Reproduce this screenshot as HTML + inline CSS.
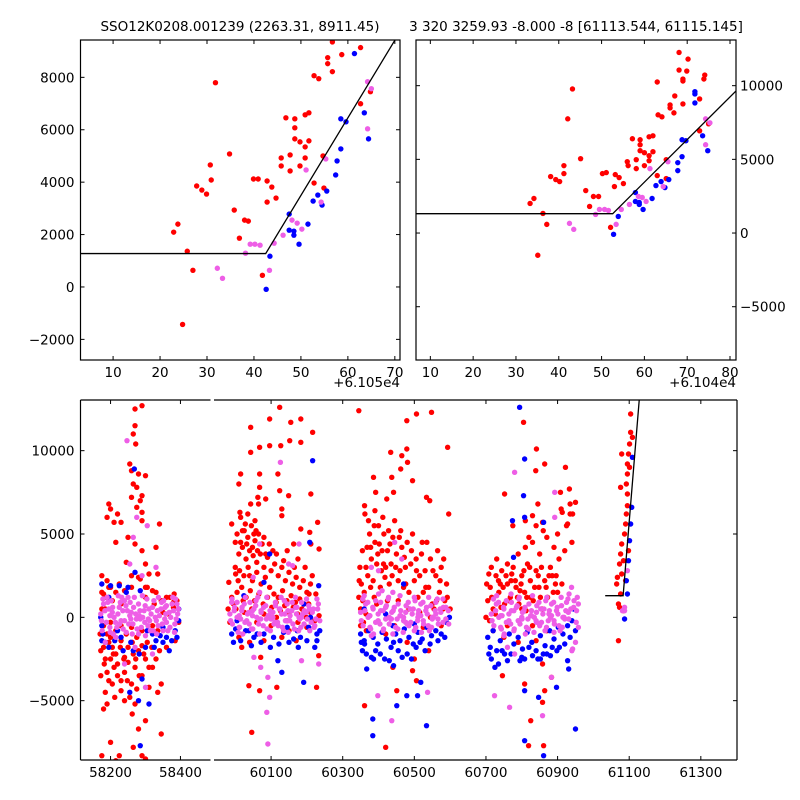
<!DOCTYPE html>
<html><head><meta charset="utf-8"><style>
html,body{margin:0;padding:0;background:#fff;}
svg{display:block;font-family:"DejaVu Sans","Liberation Sans",sans-serif;}
</style></head><body>
<svg id="chart" width="800" height="800" viewBox="0 0 800 800" xmlns="http://www.w3.org/2000/svg">
<rect x="0" y="0" width="800" height="800" fill="#fff"/>
<text x="240" y="31" font-size="13.5" text-anchor="middle">SSO12K0208.001239 (2263.31, 8911.45)</text>
<text x="576" y="31" font-size="13.5" text-anchor="middle">3 320 3259.93 -8.000 -8 [61113.544, 61115.145]</text>
<text x="400" y="387" font-size="13.5" text-anchor="end">+6.105e4</text>
<text x="736" y="387" font-size="13.5" text-anchor="end">+6.104e4</text>
</svg>
<script>
// ---------- data: top-left panel (x days, y flux) ----------
const tlRed=[[56.7,9352],[62.7,9135],[58.7,8867],[55.7,8752],[55.7,8523],[56.7,8217],[52.8,8063],[53.8,7949],[31.8,7795],[64.8,7451],[62.7,6992],[46.8,6456],[48.7,6417],[50.9,6571],[51.7,6647],[48.7,6073],[48.7,5652],[49.8,5537],[51.7,5575],[50.9,5346],[34.8,5078],[45.8,4924],[47.7,5039],[50.9,4924],[54.7,5001],[45.8,4618],[49.8,4618],[47.7,4427],[30.7,4657],[39.9,4120],[40.9,4120],[42.8,4044],[30.9,4082],[43.8,3814],[27.8,3853],[28.9,3699],[29.9,3546],[42.8,3240],[44.7,3393],[52.8,3967],[54.9,3776],[35.8,2934],[38.0,2551],[38.8,2513],[23.8,2398],[22.9,2092],[36.9,1862],[25.8,1364],[27.0,637],[41.8,446],[24.8,-1430]];
const tlBlue=[[61.4,8906],[58.5,6417],[59.6,6303],[63.5,6647],[64.4,5652],[58.5,5269],[57.7,4810],[57.4,4274],[55.5,3661],[53.6,3508],[52.6,3278],[54.5,3125],[47.5,2781],[51.5,2398],[47.5,2168],[48.5,2130],[48.5,1977],[49.6,1632],[43.4,1173],[42.6,-90]];
const tlPink=[[64.2,7834],[65.0,7566],[64.2,6035],[55.3,4886],[51.1,4465],[54.3,3240],[48.1,2551],[49.2,2436],[50.2,2207],[46.2,1977],[44.3,1671],[39.2,1632],[40.2,1632],[41.3,1594],[38.2,1288],[43.3,637],[32.2,714],[33.3,331]];
const tlFit=[[3.06,1275],[42.5,1275],[71.1,9740]];
const tlXTicks=[10,20,30,40,50,60,70];
const tlYTicks=[-2000,0,2000,4000,6000,8000];

// ---------- data: top-right panel ----------
const trRed=[[68.1,12252],[70.2,11802],[68.1,11059],[69.9,10991],[69.0,10451],[69.0,10316],[74.1,10721],[73.9,10451],[63.0,10248],[43.2,9775],[67.1,9302],[69.0,8762],[72.9,9099],[66.0,8694],[66.0,8491],[66.9,8154],[63.2,8019],[64.1,7883],[42.1,7748],[75.0,7411],[72.9,6938],[57.2,6397],[59.0,6330],[61.1,6532],[62.0,6600],[59.0,5992],[59.0,5587],[60.0,5451],[62.0,5519],[61.1,5249],[45.1,5046],[56.0,4843],[58.1,4978],[61.1,4911],[65.1,4978],[56.2,4573],[60.0,4573],[58.1,4370],[41.2,4573],[50.2,4033],[51.1,4100],[53.2,3965],[41.2,4033],[54.1,3762],[38.1,3830],[39.3,3627],[40.2,3492],[53.0,3155],[55.1,3357],[63.0,3897],[65.1,3695],[46.3,2884],[48.1,2479],[49.3,2479],[34.2,2344],[33.3,2006],[47.2,1803],[36.3,1330],[37.2,587],[52.1,384],[35.1,-1507]];
const trBlue=[[71.8,9595],[71.8,9437],[71.8,8829],[68.8,6330],[69.7,6262],[73.6,6600],[74.8,5587],[68.8,5181],[67.8,4776],[67.8,4235],[65.7,3627],[63.9,3492],[64.8,3087],[62.7,3222],[57.9,2749],[57.9,2141],[58.8,2073],[58.8,1938],[61.8,2344],[59.7,1600],[53.9,1127],[52.8,-88]];
const trPink=[[74.3,7748],[75.3,7478],[74.3,5992],[65.5,4843],[61.3,4370],[64.4,3155],[58.6,2479],[59.5,2411],[60.4,2141],[56.5,1938],[54.6,1600],[49.5,1600],[50.7,1600],[51.6,1533],[48.6,1263],[53.4,587],[42.5,655],[43.5,249]];
const trFit=[[6.65,1314],[52.6,1314],[81.4,9638]];
const trXTicks=[10,20,30,40,50,60,70,80];
const trYTicks=[-5000,0,5000,10000];

// ---------- data: bottom panel (x MJD, y flux in hundreds) ----------
const botRed=[
[58270,125],[58290,127],[58270,115],[58265,110],[58272,104],[58255,92],[58260,88],[58280,86],[58265,80],[58275,78],[58300,85],[58290,73],[58285,70],[58260,72],[58275,66],[58195,68],[58200,65],[58220,62],[58190,60],[58210,57],[58230,57],[58290,63],[58290,58],[58340,56],[58215,45],[58250,48],[58270,44],[58290,40],[58245,33],[58260,25],[58330,42],[58280,24],[58300,32],[58285,23],[58310,26],[58305,18],[58320,16],[58335,26],[58225,20],[58260,18],[58230,8],[58190,22],[58180,14],[58200,18],[58350,10],[58370,12],[58380,9],
[58180,-18],[58200,-25],[58210,-30],[58220,-28],[58190,-33],[58230,-38],[58240,-33],[58250,-27],[58260,-40],[58270,-30],[58280,-20],[58290,-35],[58300,-25],[58310,-42],[58320,-30],[58335,-45],[58345,-40],[58185,-45],[58205,-40],[58230,-44],[58255,-48],[58275,-43],[58180,-55],[58190,-52],[58270,-52],[58300,-62],[58280,-67],[58200,-75],[58290,-83],[58225,-83],[58175,-83],[58265,-78],[58215,-86],[58300,-85],[58345,-70],
[58175,5],[58180,-5],[58190,-10],[58200,-12],[58215,-8],[58230,-14],[58245,-10],[58260,-6],[58275,-12],[58290,-8],[58305,-15],[58320,-5],[58335,-8],[58350,3],[58365,2],[58380,6],[58390,10],[58395,-3],[58175,15],[58185,12],[58340,-20],[58360,-18],[58385,-14],[58205,-18],[58250,-18],[58290,-17],[58170,-10],[58325,8],[58345,10],[58300,12],[58185,-25],[58215,-22],[58240,-24],[58265,-22],[58200,-3],[58230,-5],
[58172,-20],[58182,-28],[58195,-15],[58208,-22],[58220,-35],[58228,-18],[58238,-25],[58248,-38],[58262,-15],[58272,-25],[58282,-35],[58295,-22],[58310,-30],[58318,-18],[58330,-25],[58175,25],[58185,5],[58195,18],[58205,10],[58215,15],[58240,16],[58300,18],[58330,15],[58360,12],[58382,14],[58172,-35],[58195,-38],[58212,-48],[58262,-58],[58240,-50],
[60124,126],[60096,119],[60183,119],[60155,117],[60043,114],[60216,111],[60096,103],[60068,102],[60127,103],[60152,106],[60183,105],[60043,99],[60015,86],[60068,86],[60119,86],[60010,80],[60068,78],[60124,76],[60149,73],[60211,74],[60063,72],[60085,71],[60043,68],[60065,68],[60130,65],[60013,63],[60130,61],[59990,56],[60230,57],[60183,53],[60208,51],[60211,44],[60234,41],[60163,44],[60001,26],[59982,21],[60206,14],[60233,-23],[60018,-18],[60071,-24],[60038,-41],[60116,-42],[60068,-44],[60227,-42],[60046,-69],
[60005,50],[60015,45],[60025,52],[60035,48],[60045,55],[60055,46],[60065,50],[60075,44],[60010,38],[60020,42],[60030,35],[60040,40],[60050,37],[60060,33],[60070,38],[60080,30],[60090,36],[60100,28],[60110,32],[60120,25],[60130,30],[60140,22],[60150,27],[60160,20],[60170,24],[60180,18],[60190,22],[60200,15],[60210,20],[60000,30],[60012,28],[60024,25],[60036,30],[60048,22],[60060,27],[60072,20],[60084,24],[60096,18],[60108,14],[60120,12],[60132,16],[60144,10],[60156,13],[60168,9],[60180,11],[60192,8],[59990,12],[59980,5],[59985,-3],[59995,8],[60005,15],[60018,18],[60030,12],[60042,16],[60054,10],[60066,14],[60078,8],[60090,12],[60102,6],[60114,9],[60126,4],[60138,7],[60150,3],[60162,6],[60174,2],[60186,5],[60198,0],[60210,3],[60222,-2],[60234,1],[60015,60],[60035,62],[60055,58],[60028,56],[60048,42],[60008,22],[60062,40],[60085,38],[60040,25],[60025,3],[60060,-3],[60100,-5],[60150,-8],[60200,-6],[60010,-12],[60040,-15],[60080,-14],[60130,-12],[60170,-14],
[60000,45],[60020,52],[60032,44],[60052,50],[60058,52],[60080,48],[60095,44],[60105,40],[60115,38],[60135,34],[60145,40],[60165,30],[60175,35],[60195,30],[60215,25],[60225,14],[60002,5],[60022,10],[60046,5],[60080,2],[60115,0],[60145,-2],[60175,-3],[60205,8],
[60345,124],[60506,122],[60548,123],[60479,118],[60434,99],[60479,101],[60465,97],[60481,93],[60462,89],[60593,102],[60386,84],[60437,84],[60495,82],[60392,75],[60442,75],[60423,71],[60534,72],[60543,70],[60361,67],[60596,62],[60361,-53],[60451,-44],[60506,-38],[60495,-32],[60420,-78],
[60350,5],[60360,15],[60370,25],[60380,35],[60390,45],[60400,55],[60410,40],[60420,30],[60430,20],[60440,48],[60450,38],[60460,28],[60470,18],[60480,45],[60490,32],[60500,22],[60510,12],[60520,38],[60530,28],[60540,18],[60550,8],[60560,25],[60570,15],[60580,5],[60590,20],[60355,40],[60365,30],[60375,50],[60385,22],[60395,32],[60405,18],[60415,50],[60425,40],[60435,32],[60445,58],[60455,22],[60465,42],[60475,30],[60485,15],[60495,50],[60505,35],[60515,25],[60525,15],[60535,45],[60545,35],[60555,5],[60565,40],[60575,30],[60585,10],[60345,12],[60350,-5],[60365,2],[60395,8],[60425,10],[60455,10],[60485,5],[60515,3],[60545,0],[60575,-5],[60600,5],[60362,62],[60372,58],[60390,64],[60412,60],[60352,20],[60348,30],[60358,-3],[60420,-10],[60480,-15],[60540,-20],[60440,-30],[60500,-25],[60378,42],[60398,38],[60418,24],[60432,44],[60458,48],[60472,36],[60388,12],[60408,28],
[60346,22],[60356,10],[60368,42],[60378,18],[60388,55],[60402,44],[60414,32],[60428,52],[60438,25],[60448,30],[60462,52],[60476,20],[60492,40],[60506,28],[60522,45],[60532,18],[60552,28],[60562,10],[60572,22],[60582,35],[60592,12],[60366,-8],[60445,-5],[60525,-6],
[60805,117],[60841,101],[60864,92],[60839,88],[60922,90],[60752,74],[60908,75],[60933,77],[60830,61],[60858,57],[60913,63],[60935,68],[60950,69],[60942,62],[60928,56],[60746,-35],[60808,-40],[60858,-28],[60864,-44],[60858,-51],[60825,-62],[60819,-77],[60861,-77],[60883,-36],
[60705,10],[60712,18],[60720,5],[60728,25],[60736,15],[60744,28],[60752,8],[60760,20],[60768,12],[60776,30],[60784,18],[60792,8],[60800,25],[60808,15],[60816,32],[60824,22],[60832,10],[60840,28],[60848,18],[60856,5],[60864,22],[60872,12],[60880,30],[60888,15],[60896,25],[60904,35],[60912,20],[60920,40],[60715,30],[60730,35],[60760,32],[60790,38],[60810,42],[60830,45],[60850,38],[60870,48],[60890,42],[60860,52],[60840,55],[60820,48],[60900,50],[60925,55],[60935,62],[60910,65],[60845,68],[60810,58],[60800,5],[60760,-5],[60720,-8],[60830,-5],[60870,-8],[60700,0],[60710,-2],[60750,-12],[60790,-15],[60840,-14],[60775,55],[60940,45],[60740,20],[60770,22],[60795,16],[60825,12],[60855,30],[60885,25],
[60702,20],[60716,12],[60726,2],[60735,22],[60748,18],[60756,25],[60764,10],[60772,26],[60782,22],[60788,12],[60798,20],[60806,28],[60814,12],[60822,30],[60836,18],[60846,25],[60852,12],[60868,18],[60876,25],[60894,20],[60900,15],[60708,26],[60742,6],[60812,4],
[61104,122],[61104,111],[61109,108],[61101,104],[61098,98],[61079,98],[61095,92],[61095,86],[61092,80],[61076,78],[61095,67],[61092,62],[61090,56],[61087,50],[61079,44],[61076,38],[61073,32],[61067,24],[61065,20],[61079,26],[61090,22],[61070,8],[61073,6],[61076,14],[61070,-14],[61084,4],[61095,74],[61098,40],[61084,34],[61101,90]];
const botBlue=[
[58175,20],[58200,19],[58225,19],[58250,18],[58285,16],[58270,27],[58245,15],[58195,12],[58175,-5],[58185,-15],[58220,-8],[58265,-20],[58300,-18],[58330,-14],[58360,-12],[58385,-8],[58395,-2],[58375,-14],[58350,-6],[58290,-37],[58285,-77],[58310,-52],[58255,-45],[58280,-50],[58350,-15],[58230,-12],[58320,-10],[58395,5],[58175,-14],[58268,89],
[58178,-10],[58195,-18],[58212,-14],[58236,-20],[58258,-15],[58282,-22],[58305,-8],[58325,-18],[58342,-11],[58368,-20],[58390,-12],[58172,0],
[60216,94],[60208,45],[60096,38],[60080,21],[60024,13],[60233,19],[60191,8],[60001,-7],[60029,-8],[60052,-12],[60080,-10],[60107,-12],[60135,-9],[60163,-13],[60182,-12],[60205,-6],[60228,-10],[60228,-14],[60119,-26],[60130,-33],[60191,-39],[60061,-10],[60038,-8],[60145,-6],[60173,-8],[60005,-2],[60210,0],
[59990,-10],[60015,-14],[60045,-17],[60072,-15],[60098,-18],[60122,-16],[60150,-15],[60176,-18],[60200,-14],[60222,-18],[60236,-8],[59995,-15],
[60384,-61],[60384,-71],[60451,-53],[60479,-47],[60509,-47],[60534,-65],[60518,-39],[60442,-29],[60367,-31],[60386,-25],[60361,-16],
[60350,-10],[60360,-14],[60372,-8],[60385,-12],[60398,-16],[60410,-9],[60422,-13],[60435,-18],[60448,-10],[60460,-14],[60472,-7],[60485,-12],[60497,-16],[60510,-9],[60522,-13],[60535,-6],[60548,-11],[60560,-8],[60575,-10],[60590,-3],[60598,0],[60355,-20],[60380,-24],[60405,-22],[60430,-26],[60455,-20],[60480,-22],[60505,-18],[60530,-20],[60360,5],[60420,2],[60470,20],[60500,-4],
[60352,-15],[60366,-22],[60392,-20],[60417,-25],[60442,-15],[60466,-24],[60492,-25],[60516,-15],[60544,-16],[60566,-14],[60585,-12],[60440,-5],
[60794,126],[60808,95],[60805,73],[60808,60],[60774,58],[60861,57],[60777,36],[60808,-25],[60852,-25],[60880,-23],[60928,-26],[60931,-31],[60897,-42],[60808,-44],[60847,-48],[60808,-74],[60861,-83],[60950,-67],
[60705,-12],[60712,-18],[60720,-8],[60730,-20],[60740,-14],[60752,-22],[60765,-10],[60778,-16],[60790,-12],[60802,-19],[60815,-9],[60828,-15],[60840,-20],[60852,-11],[60865,-17],[60878,-8],[60890,-13],[60902,-6],[60915,-10],[60928,-5],[60940,-2],[60950,-8],[60715,-25],[60735,-28],[60760,-26],[60800,-24],[60830,-23],[60870,-22],[60905,-18],[60945,5],
[60708,-22],[60725,-30],[60745,-20],[60770,-22],[60795,-26],[60820,-18],[60845,-25],[60860,-22],[60885,-18],[60898,-20],[60920,-16],[60935,-12],
[61109,96],[61107,66],[61104,56],[61101,46],[61098,34],[61092,22],[61087,-1],[61095,14]];
const botPink=[
[58172,2],[58180,8],[58188,-3],[58195,5],[58202,10],[58210,0],[58218,-6],[58225,6],[58232,12],[58240,-2],[58248,4],[58256,9],[58264,-4],[58272,2],[58280,8],[58288,-6],[58296,4],[58304,11],[58312,-2],[58320,6],[58328,0],[58336,-5],[58344,5],[58352,10],[58360,-3],[58368,3],[58376,8],[58384,-4],[58392,2],[58176,-8],[58199,-9],[58222,13],[58245,-9],[58268,12],[58291,13],[58314,-8],[58337,12],[58360,7],[58383,-9],[58190,12],[58215,-12],[58240,10],[58262,-10],[58285,-1],[58308,-1],[58332,-10],[58355,-1],[58378,12],[58205,3],[58255,1],[58300,-11],[58350,-8],[58390,8],[58230,-2],[58280,-10],
[58174,-2],[58184,4],[58192,9],[58198,-6],[58206,6],[58214,-3],[58221,2],[58228,9],[58236,-7],[58244,7],[58252,-4],[58259,3],[58266,6],[58276,-7],[58284,4],[58292,0],[58299,7],[58307,-5],[58316,2],[58324,10],[58331,-2],[58340,1],[58348,-4],[58356,6],[58364,-8],[58372,0],[58380,4],[58388,-1],[58394,5],[58178,11],[58208,-10],[58235,4],[58258,-1],[58282,1],[58310,5],[58334,4],[58358,2],[58386,11],[58198,1],[58226,-4],[58250,12],[58274,-1],[58298,-3],[58322,-8],[58346,9],[58370,-6],
[58247,106],[58275,60],[58265,48],[58305,55],[58255,32],[58290,25],[58330,30],[58270,-18],[58240,-28],[58320,-22],[58300,-42],[58185,-15],
[59985,2],[59992,-4],[59998,6],[60005,0],[60012,-6],[60018,4],[60025,8],[60032,-2],[60038,3],[60045,-7],[60052,5],[60058,10],[60065,-1],[60072,4],[60078,-5],[60085,7],[60092,1],[60098,-8],[60105,3],[60112,9],[60118,-3],[60125,5],[60132,-6],[60138,2],[60145,8],[60152,-2],[60158,4],[60165,-7],[60172,6],[60178,0],[60185,9],[60192,-4],[60198,3],[60205,7],[60212,-3],[60218,5],[60225,-1],[60232,8],[59990,9],[60008,-9],[60028,12],[60048,1],[60068,-10],[60088,12],[60108,-4],[60128,12],[60148,-9],[60168,12],[60188,2],[60208,-8],[60228,11],[60015,-1],[60060,0],[60100,-1],[60140,-2],[60180,-1],[60220,-6],
[59987,-2],[59997,4],[60005,9],[60011,-6],[60019,6],[60027,-3],[60034,2],[60041,9],[60049,-7],[60057,7],[60065,-4],[60072,3],[60079,6],[60089,-7],[60097,4],[60105,0],[60112,7],[60120,-5],[60129,2],[60137,10],[60144,-2],[60153,1],[60161,-4],[60169,6],[60177,-8],[60185,0],[60193,4],[60201,-1],[60207,5],[59991,11],[60021,-10],[60048,4],[60071,-1],[60095,1],[60123,5],[60147,4],[60171,2],[60199,11],[60011,1],[60039,-4],[60063,12],[60087,-1],[60111,-3],[60135,-8],[60159,9],[60183,-6],[60215,3],[60222,-5],[60230,5],[60236,-2],
[60126,93],[60068,44],[60178,44],[60149,32],[60160,31],[60050,24],[60068,15],[60052,-24],[60071,-30],[60091,-36],[60096,-48],[60088,-57],[60091,-76],[60185,-26],[60233,-28],
[60350,3],[60357,-5],[60364,8],[60371,0],[60378,-7],[60385,5],[60392,10],[60399,-2],[60406,4],[60413,-8],[60420,6],[60427,11],[60434,-1],[60441,4],[60448,-6],[60455,8],[60462,1],[60469,-9],[60476,3],[60483,9],[60490,-3],[60497,5],[60504,-6],[60511,2],[60518,8],[60525,-2],[60532,4],[60539,-5],[60546,7],[60553,0],[60560,9],[60567,-4],[60574,3],[60581,6],[60588,-1],[60595,4],[60360,13],[60380,-11],[60400,14],[60420,-1],[60440,-10],[60460,13],[60480,-4],[60500,12],[60520,-9],[60540,12],[60560,2],[60580,11],[60375,1],[60430,0],[60470,-2],[60510,0],[60550,-1],
[60352,-2],[60362,4],[60370,9],[60376,-6],[60384,6],[60392,-3],[60399,2],[60406,9],[60414,-7],[60422,7],[60430,-4],[60437,3],[60444,6],[60454,-7],[60462,4],[60470,0],[60477,7],[60485,-5],[60494,2],[60502,10],[60509,-2],[60518,1],[60526,-4],[60534,6],[60542,-8],[60550,0],[60558,4],[60566,-1],[60572,5],[60356,11],[60386,-10],[60413,4],[60436,-1],[60460,1],[60488,5],[60512,4],[60536,2],[60564,11],[60376,1],[60404,-4],[60428,12],[60452,-1],[60476,-3],[60500,-8],[60524,9],[60548,-6],[60580,-3],[60588,6],[60596,-4],
[60445,45],[60400,28],[60410,16],[60440,15],[60465,35],[60380,30],[60398,-47],[60437,-62],[60537,-45],
[60715,2],[60722,-5],[60729,8],[60736,0],[60743,-7],[60750,5],[60757,10],[60764,-2],[60771,4],[60778,-8],[60785,6],[60792,11],[60799,-1],[60806,4],[60813,-6],[60820,8],[60827,1],[60834,-9],[60841,3],[60848,9],[60855,-3],[60862,5],[60869,-6],[60876,2],[60883,8],[60890,-2],[60897,4],[60904,-5],[60911,7],[60918,0],[60925,9],[60932,14],[60939,18],[60946,10],[60953,4],[60958,-6],[60730,13],[60750,-11],[60770,14],[60790,-2],[60810,-10],[60830,13],[60850,-4],[60870,12],[60890,-9],[60910,12],[60930,3],[60950,-15],[60745,1],[60800,0],[60840,-2],[60880,0],[60920,-1],[60940,-20],[60955,12],[60760,-18],[60780,-22],
[60717,-2],[60727,4],[60735,9],[60741,-6],[60749,6],[60757,-3],[60764,2],[60771,9],[60779,-7],[60787,7],[60795,-4],[60802,3],[60809,6],[60819,-7],[60827,4],[60835,0],[60842,7],[60850,-5],[60859,2],[60867,10],[60874,-2],[60883,1],[60891,-4],[60899,6],[60907,-8],[60915,0],[60923,4],[60931,-1],[60937,5],[60721,11],[60751,-10],[60778,4],[60801,-1],[60825,1],[60853,5],[60877,4],[60901,2],[60929,11],[60741,1],[60769,-4],[60793,12],[60817,-1],[60841,-3],[60865,-8],[60889,9],[60913,-6],[60945,6],[60952,-3],[60958,8],
[60780,87],[60892,75],[60892,60],[60724,-47],[60766,-54],[60858,-59],[60883,-36],[60942,-19],
[61087,6],[61081,4],[61095,28],[61087,4]];
const botFit=[[61033,13],[61083,13],[61128,130.4]];
const botLeftXTicks=[58200,58400];
const botRightXTicks=[60100,60300,60500,60700,60900,61100,61300];
const botYTicks=[-5000,0,5000,10000];

// ---------- drawing ----------
const svg=document.getElementById('chart');
const NS='http://www.w3.org/2000/svg';
const RED='#ff0000',BLUE='#0000ff',PINK='#ee5ee6';
function mk(tag,attrs,parent){const e=document.createElementNS(NS,tag);for(const k in attrs)e.setAttribute(k,attrs[k]);(parent||svg).appendChild(e);return e;}
function scale(d0,d1,p0,p1){return v=>p0+(v-d0)*(p1-p0)/(d1-d0);}
let clipN=0;
function clipRect(x0,y0,x1,y1){const id='clip'+(clipN++);const cp=mk('clipPath',{id:id});mk('rect',{x:x0,y:y0,width:x1-x0,height:y1-y0},cp);return id;}
function scatter(g,pts,sx,sy,color,yMul){for(const p of pts){const c=mk('circle',{cx:sx(p[0]).toFixed(2),cy:sy(p[1]*yMul).toFixed(2),r:2.7,fill:color},g);

}}
function fitLine(g,pts,sx,sy,yMul,name){const l=mk('polyline',{points:pts.map(p=>sx(p[0]).toFixed(2)+','+sy(p[1]*yMul).toFixed(2)).join(' '),fill:'none',stroke:'#000','stroke-width':1.3},g);

}

function topPanel(o){
  const sx=scale(o.xr[0],o.xr[1],o.x0,o.x1),sy=scale(o.yr[0],o.yr[1],o.y1,o.y0);
  const g=mk('g',{'clip-path':'url(#'+clipRect(o.x0,o.y0,o.x1,o.y1)+')'});
  
  
  scatter(g,o.red,sx,sy,RED,1);scatter(g,o.blue,sx,sy,BLUE,1);scatter(g,o.pink,sx,sy,PINK,1);
  fitLine(g,o.fit,sx,sy,1,o.name+'-fit-line');
  const fr=mk('rect',{x:o.x0,y:o.y0,width:o.x1-o.x0,height:o.y1-o.y0,fill:'none',stroke:'#000','stroke-width':1.2});
  
  
  for(const t of o.xt){const x=sx(t);mk('line',{x1:x,y1:o.y1,x2:x,y2:o.y1-4,stroke:'#000'});mk('line',{x1:x,y1:o.y0,x2:x,y2:o.y0+4,stroke:'#000'});
    const tx=mk('text',{x:x,y:o.y1+17,'font-size':13.5,'text-anchor':'middle'});tx.textContent=t;
    
    }
  for(const t of o.yt){const y=sy(t);mk('line',{x1:o.x0,y1:y,x2:o.x0+4,y2:y,stroke:'#000'});mk('line',{x1:o.x1,y1:y,x2:o.x1-4,y2:y,stroke:'#000'});
    const right=o.ylab==='right';
    const tx=mk('text',{x:right?o.x1+4:o.x0-6,y:y+5,'font-size':13.5,'text-anchor':right?'start':'end'});tx.textContent=t<0?'\u2212'+(-t):t;
    
    }
}
topPanel({name:'top-left',x0:80.5,x1:400,y0:40,y1:360,xr:[3.06,71.1],yr:[-2787,9425],red:tlRed,blue:tlBlue,pink:tlPink,fit:tlFit,xt:tlXTicks,yt:tlYTicks,ylab:'left'});
topPanel({name:'top-right',x0:416,x1:736,y0:40,y1:360,xr:[6.65,81.4],yr:[-8616,13099],red:trRed,blue:trBlue,pink:trPink,fit:trFit,xt:trXTicks,yt:trYTicks,ylab:'right'});

// bottom broken-axis panel
const bY0=400,bY1=760;
const bsy=scale(-8560,13040,bY1,bY0);
const leftP={x0:80.5,x1:210.5,d0:58114,d1:58486,ticks:botLeftXTicks,name:'bottom-left'};
const rightP={x0:214,x1:737,d0:59940.6,d1:61401,ticks:botRightXTicks,name:'bottom-right'};
for(const P of [leftP,rightP]){
  const sx=scale(P.d0,P.d1,P.x0,P.x1);
  const g=mk('g',{'clip-path':'url(#'+clipRect(P.x0,bY0,P.x1,bY1)+')'});
  
  
  scatter(g,botRed,sx,bsy,RED,100);scatter(g,botBlue,sx,bsy,BLUE,100);scatter(g,botPink,sx,bsy,PINK,100);
  fitLine(g,botFit,sx,bsy,100,P.name+'-fit-line');
  mk('line',{x1:P.x0,y1:bY0,x2:P.x1,y2:bY0,stroke:'#000','stroke-width':1.2});
  mk('line',{x1:P.x0,y1:bY1,x2:P.x1,y2:bY1,stroke:'#000','stroke-width':1.2});
  for(const t of P.ticks){const x=sx(t);mk('line',{x1:x,y1:bY1,x2:x,y2:bY1-4,stroke:'#000'});mk('line',{x1:x,y1:bY0,x2:x,y2:bY0+4,stroke:'#000'});
    const tx=mk('text',{x:x,y:bY1+17,'font-size':13.5,'text-anchor':'middle'});tx.textContent=t;
    
    }
}
mk('line',{x1:leftP.x0,y1:bY0,x2:leftP.x0,y2:bY1,stroke:'#000','stroke-width':1.2});
mk('line',{x1:rightP.x1,y1:bY0,x2:rightP.x1,y2:bY1,stroke:'#000','stroke-width':1.2});
for(const t of botYTicks){const y=bsy(t);mk('line',{x1:leftP.x0,y1:y,x2:leftP.x0+4,y2:y,stroke:'#000'});mk('line',{x1:rightP.x1,y1:y,x2:rightP.x1-4,y2:y,stroke:'#000'});
  const tx=mk('text',{x:leftP.x0-6,y:y+5,'font-size':13.5,'text-anchor':'end'});tx.textContent=t<0?'\u2212'+(-t):t;
  
  }
</script>
</body></html>
